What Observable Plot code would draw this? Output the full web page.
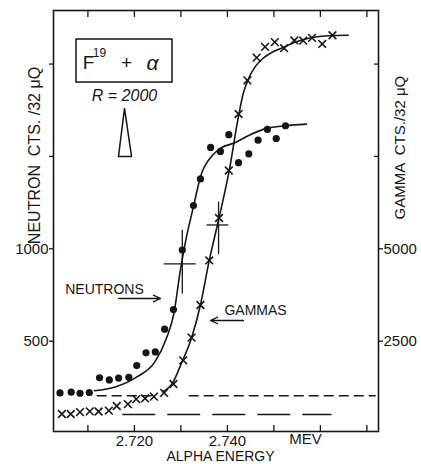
<!DOCTYPE html>
<html><head><meta charset="utf-8">
<script src="https://cdn.jsdelivr.net/npm/d3@7"></script>
<script src="https://cdn.jsdelivr.net/npm/@observablehq/plot@0.6"></script>
<style>html,body{margin:0;padding:0;background:#fff;} #chart svg{display:block;}</style>
</head><body><div id="chart"></div>
<script>
// ---- data (alpha energy in MeV, counts per 32 µQ) ----
const neutronEnergy = [2.7040,2.7064,2.7083,2.7103,2.7125,2.7146,2.7166,2.7188,2.7205,2.7225,2.7245,2.7265,2.7284,2.7303,2.7327,2.7342,2.7364,2.7385,2.7403,2.7424,2.7446,2.7466,2.7486,2.7505,2.7525];
const neutronCounts = [220,224,218,222,302,290,300,304,368,437,442,565,671,993,1234,1378,1549,1527,1618,1466,1514,1588,1646,1597,1666];

const gammaEnergy = [2.7044,2.7063,2.7083,2.7104,2.7123,2.7145,2.7162,2.7186,2.7204,2.7223,2.7242,2.7264,2.7284,2.7305,2.7323,2.7342,2.7361,2.7382,2.7403,2.7424,2.7443,2.7463,2.7481,2.7502,2.7522,2.7544,2.7563,2.7582,2.7604,2.7626];
const gammaCounts = [530,530,580,600,595,620,745,795,930,950,1000,1100,1340,1980,2595,3480,4685,5835,7120,8650,9560,10175,10465,10595,10430,10640,10635,10710,10545,10780];

const neutronFitEnergy = [2.7114,2.7159,2.7207,2.7244,2.7269,2.7285,2.7298,2.7310,2.7327,2.7342,2.7368,2.7385,2.7416,2.7448,2.7484,2.7525,2.7570];
const neutronFitCounts = [232,252,309,388,516,650,870,1040,1228,1389,1506,1544,1574,1616,1652,1666,1675];

const gammaFitEnergy = [2.7260,2.7282,2.7302,2.7323,2.7342,2.7361,2.7382,2.7404,2.7424,2.7434,2.7446,2.7460,2.7476,2.7496,2.7521,2.7545,2.7582,2.7625,2.7660];
const gammaFitCounts = [1130,1365,1925,2595,3480,4685,5835,7120,8600,9200,9620,9930,10150,10320,10455,10590,10720,10775,10780];

// error crosses: [energy, count, energyLow, energyHigh, countLow, countHigh]
const neutronError = [2.7303, 918, 2.7264, 2.7333, 756, 1100];
const gammaError = [2.7381, 5645, 2.7356, 2.7403, 4839, 6264];

// backgrounds
const neutronBackground = 205;
const neutronBackgroundSpans = [[2.7120, 2.7243], [2.7318, 2.7720]];
const gammaBackground = 515;
const gammaBackgroundSpan = [2.7175, 2.7625];

// axes
const gammaPerNeutronUnit = 5;
const xTicks = [2.710, 2.720, 2.730, 2.740, 2.750, 2.760, 2.770];
const xTickLabels = [2.720, 2.740];
const yTicks = [500, 1000, 1500, 2000];
const yTickLabels = [500, 1000];
const gammaTickLabels = [2500, 5000];
const gammaTicksUnlabeled = [7500, 10000];

// ---- layout helpers ----
const ink = "#161616";
const font = "'Liberation Sans', Arial, sans-serif";
const neutrons = neutronEnergy.map((e, i) => ({e, n: neutronCounts[i]}));
const gammas = gammaEnergy.map((e, i) => ({e, n: gammaCounts[i] / gammaPerNeutronUnit}));
const neutronFit = neutronFitEnergy.map((e, i) => ({e, n: neutronFitCounts[i]}));
const gammaFit = gammaFitEnergy.map((e, i) => ({e, n: gammaFitCounts[i] / gammaPerNeutronUnit}));
const errors = [
  {e: neutronError[0], n: neutronError[1], e1: neutronError[2], e2: neutronError[3], n1: neutronError[4], n2: neutronError[5]},
  {e: gammaError[0], n: gammaError[1] / gammaPerNeutronUnit, e1: gammaError[2], e2: gammaError[3], n1: gammaError[4] / gammaPerNeutronUnit, n2: gammaError[5] / gammaPerNeutronUnit}
];
const nBg = neutronBackgroundSpans.map(([a, b]) => ({e1: a, e2: b, n: neutronBackground}));
const gBg = [{e1: gammaBackgroundSpan[0], e2: gammaBackgroundSpan[1], n: gammaBackground / gammaPerNeutronUnit}];

// annotation positions (energy, neutron-count units)
const labels = [
  {t: "NEUTRONS", e: 2.71357, n: 780, size: 14},
  {t: "GAMMAS", e: 2.74605, n: 666, size: 14},
  {t: "MEV", e: 2.7568, n: -32, size: 15},
  {t: "ALPHA ENERGY", e: 2.73852, n: -124, size: 14}
];
const arrows = [
  {e1: 2.71658, n1: 731, e2: 2.72561, n2: 731},
  {e1: 2.74347, n1: 612, e2: 2.73637, n2: 612}
];
const box = [{e1: 2.70755, e2: 2.72819, n1: 1900, n2: 2133}];
const triangle = [{e: 2.71787, n: 1760}, {e: 2.71938, n: 1500}, {e: 2.71658, n: 1500}, {e: 2.71787, n: 1760}];

const plot = Plot.plot({
  width: 421, height: 464,
  marginLeft: 53, marginRight: 43, marginTop: 10, marginBottom: 33,
  style: {fontFamily: font, color: ink, background: "#fff", overflow: "visible"},
  x: {domain: [2.7026, 2.7725]},
  y: {domain: [11, 2290]},
  marks: [
    Plot.frame({stroke: ink, strokeWidth: 1.6}),
    // tick marks
    Plot.axisX({anchor: "bottom", ticks: xTicks, tickSize: -6, fill: "none", label: null, strokeWidth: 1.3}),
    Plot.axisX({anchor: "top", ticks: xTicks, tickSize: -6, fill: "none", label: null, strokeWidth: 1.3}),
    Plot.axisX({anchor: "bottom", ticks: xTickLabels, tickSize: 0, tickPadding: 4, tickFormat: d3.format(".3f"), fontSize: 15, label: null}),
    Plot.axisY({anchor: "left", ticks: yTicks, tickSize: 4, fill: "none", label: null, strokeWidth: 1.3}),
    Plot.axisY({anchor: "left", ticks: yTickLabels, tickSize: 0, tickPadding: 5, tickFormat: d => String(d), fontSize: 15, label: null}),
    Plot.axisY({anchor: "right", ticks: gammaTickLabels.map(g => g / gammaPerNeutronUnit), tickSize: 4, tickPadding: 1, tickFormat: d => String(d * gammaPerNeutronUnit), fontSize: 15, label: null, strokeWidth: 1.3}),
    Plot.axisY({anchor: "right", ticks: gammaTicksUnlabeled.map(g => g / gammaPerNeutronUnit), tickSize: -5, fill: "none", label: null, strokeWidth: 1.3}),
    // axis titles
    Plot.text(["NEUTRON  CTS. /32 \u03BCQ"], {x: () => 2.69851, y: () => 1505, rotate: -90, fontSize: 16, fill: ink}),
    Plot.text(["GAMMA  CTS./32 \u03BCQ"], {x: () => 2.77723, y: () => 1548, rotate: -90, fontSize: 15, fill: ink}),
    // backgrounds
    Plot.ruleY(nBg, {y: "n", x1: "e1", x2: "e2", stroke: ink, strokeWidth: 1.5, strokeDasharray: "10,5"}),
    Plot.ruleY(gBg, {y: "n", x1: "e1", x2: "e2", stroke: ink, strokeWidth: 1.5, strokeDasharray: "33,12"}),
    // fits
    Plot.line(neutronFit, {x: "e", y: "n", curve: "monotone-x", stroke: ink, strokeWidth: 1.6}),
    Plot.line(gammaFit, {x: "e", y: "n", curve: "monotone-x", stroke: ink, strokeWidth: 1.6}),
    // error crosses
    Plot.ruleX(errors, {x: "e", y1: "n1", y2: "n2", stroke: ink, strokeWidth: 1.3}),
    Plot.ruleY(errors, {y: "n", x1: "e1", x2: "e2", stroke: ink, strokeWidth: 1.3}),
    // points
    Plot.dot(neutrons, {x: "e", y: "n", r: 3.6, fill: ink, stroke: "none"}),
    Plot.dot(gammas, {x: "e", y: "n", r: 3.6, symbol: "times", stroke: ink, strokeWidth: 1.6}),
    // annotations
    Plot.text(labels, {x: "e", y: "n", text: "t", fontSize: "size", fill: ink}),
    Plot.arrow(arrows, {x1: "e1", y1: "n1", x2: "e2", y2: "n2", stroke: ink, strokeWidth: 1.3, headLength: 9, headAngle: 50}),
    Plot.rect(box, {x1: "e1", x2: "e2", y1: "n1", y2: "n2", fill: "none", stroke: ink, strokeWidth: 1.5}),
    Plot.text(["F"], {x: () => 2.71013, y: () => 2005, fontSize: 19, fill: ink}),
    Plot.text(["19"], {x: () => 2.71249, y: () => 2057, fontSize: 12, fill: ink}),
    Plot.text(["+"], {x: () => 2.7183, y: () => 2005, fontSize: 19, fill: ink}),
    Plot.text(["\u03B1"], {x: () => 2.72389, y: () => 2005, fontSize: 21, fontStyle: "italic", fill: ink}),
    Plot.text(["R = 2000"], {x: () => 2.71787, y: () => 1830, fontSize: 16, fontStyle: "italic", fill: ink}),
    Plot.line(triangle, {x: "e", y: "n", stroke: ink, strokeWidth: 1.5})
  ]
});
document.getElementById("chart").append(plot);
</script>
</body></html>
